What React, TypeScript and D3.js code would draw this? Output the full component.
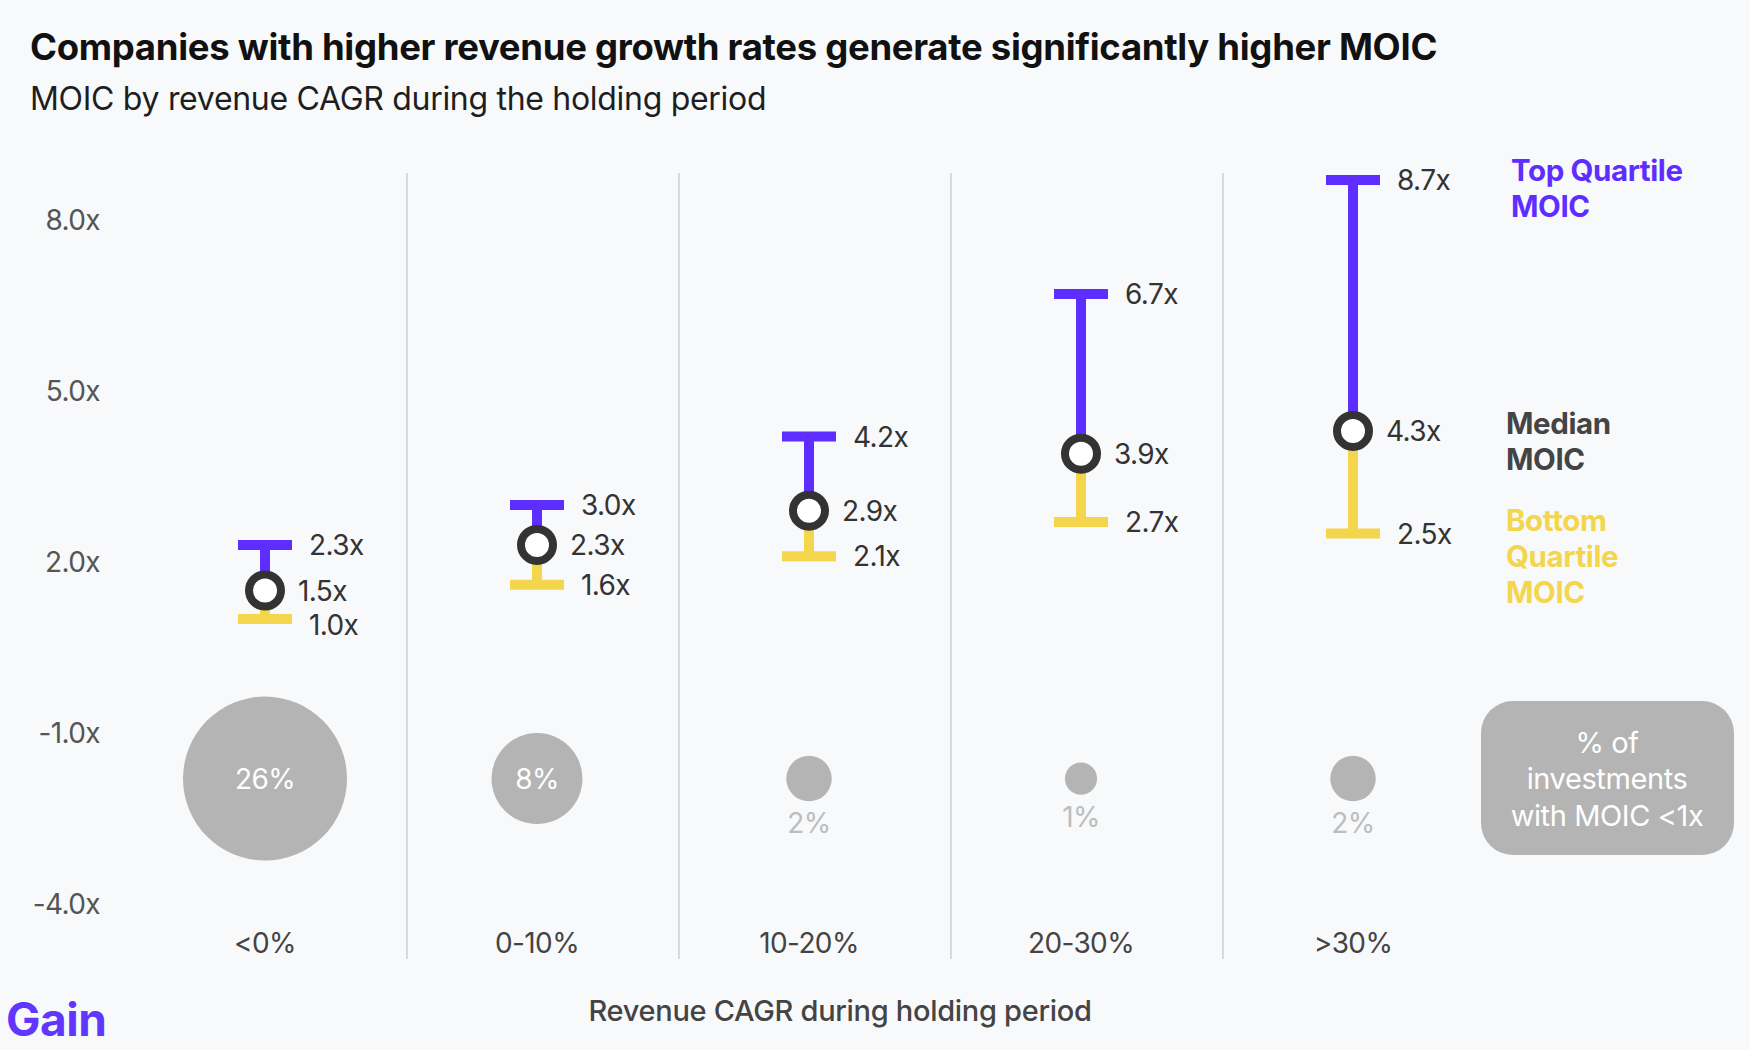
import React, { useRef, useEffect } from "react";
import * as d3 from "d3";

// ---------------------------------------------------------------------------
// DATA
// ---------------------------------------------------------------------------
const categories = ["<0%", "0-10%", "10-20%", "20-30%", ">30%"];
const topQuartile = [2.3, 3.0, 4.2, 6.7, 8.7];
const medianMoic = [1.5, 2.3, 2.9, 3.9, 4.3];
const bottomQuartile = [1.0, 1.6, 2.1, 2.7, 2.5];
const pctBelowOne = [26, 8, 2, 1, 2];
const yTicks = [8, 5, 2, -1, -4];

const PURPLE = "#5d2eff";
const YELLOW = "#f3d64b";
const DARK = "#333333";
const BUBBLE = "#b4b4b4";
const FONT = "Inter, 'Noto Sans', sans-serif";

export default function App() {
  const svgRef = useRef<SVGSVGElement | null>(null);

  useEffect(() => {
    document.body.style.margin = "0";

    const W = 1750;
    const H = 1050;

    const svg = d3.select(svgRef.current);
    svg.selectAll("*").remove();
    svg.attr("width", W).attr("height", H).style("font-family", FONT);

    svg.append("rect").attr("width", W).attr("height", H).attr("fill", "#f8f9fb");

    // scales
    const y = d3.scaleLinear().domain([-4, 8]).range([904, 220]);
    const x = d3.scalePoint<string>().domain(categories).range([265, 1353]);
    const r = d3.scaleSqrt().domain([0, 26]).range([0, 82]);
    const bubbleRow = y(-1.8);

    // titles
    svg
      .append("text")
      .attr("x", 30)
      .attr("y", 60)
      .attr("fill", "#111")
      .style("font-size", "36.5px")
      .style("font-weight", 700)
      .style("letter-spacing", "-0.3px")
      .text("Companies with higher revenue growth rates generate significantly higher MOIC");

    svg
      .append("text")
      .attr("x", 30)
      .attr("y", 110)
      .attr("fill", "#1e1e1e")
      .style("font-size", "32px")
      .style("letter-spacing", "-0.3px")
      .text("MOIC by revenue CAGR during the holding period");

    // y tick labels
    svg
      .append("g")
      .selectAll("text")
      .data(yTicks)
      .join("text")
      .attr("x", 100)
      .attr("y", (d) => y(d))
      .attr("text-anchor", "end")
      .attr("dominant-baseline", "central")
      .attr("fill", "#555")
      .style("font-size", "28px")
      .style("letter-spacing", "-0.6px")
      .text((d) => `${d.toFixed(1)}x`);

    // column separators
    const seps = categories.slice(1).map((c, i) => (x(categories[i])! + x(c)!) / 2 + 6);
    svg
      .append("g")
      .selectAll("line")
      .data(seps)
      .join("line")
      .attr("x1", (d) => d)
      .attr("x2", (d) => d)
      .attr("y1", 173)
      .attr("y2", 959)
      .attr("stroke", "#d8d9dc")
      .attr("stroke-width", 2);

    const rows = categories.map((c, i) => ({
      cat: c,
      top: topQuartile[i],
      med: medianMoic[i],
      bot: bottomQuartile[i],
      pct: pctBelowOne[i],
    }));
    type Row = (typeof rows)[number];

    const g = svg.append("g").selectAll("g").data(rows).join("g");
    const cap = 27;

    // whiskers
    g.append("line")
      .attr("x1", (d) => x(d.cat)!)
      .attr("x2", (d) => x(d.cat)!)
      .attr("y1", (d) => y(d.top))
      .attr("y2", (d) => y(d.med))
      .attr("stroke", PURPLE)
      .attr("stroke-width", 10);
    g.append("line")
      .attr("x1", (d) => x(d.cat)!)
      .attr("x2", (d) => x(d.cat)!)
      .attr("y1", (d) => y(d.med))
      .attr("y2", (d) => y(d.bot))
      .attr("stroke", YELLOW)
      .attr("stroke-width", 10);
    g.append("line")
      .attr("x1", (d) => x(d.cat)! - cap)
      .attr("x2", (d) => x(d.cat)! + cap)
      .attr("y1", (d) => y(d.top))
      .attr("y2", (d) => y(d.top))
      .attr("stroke", PURPLE)
      .attr("stroke-width", 10);
    g.append("line")
      .attr("x1", (d) => x(d.cat)! - cap)
      .attr("x2", (d) => x(d.cat)! + cap)
      .attr("y1", (d) => y(d.bot))
      .attr("y2", (d) => y(d.bot))
      .attr("stroke", YELLOW)
      .attr("stroke-width", 10);
    g.append("circle")
      .attr("cx", (d) => x(d.cat)!)
      .attr("cy", (d) => y(d.med))
      .attr("r", 16)
      .attr("fill", "#fff")
      .attr("stroke", DARK)
      .attr("stroke-width", 8);

    // value labels (keep a minimum gap so close labels don't collide)
    const minGap = 34;
    const topY = (d: Row) => Math.min(y(d.top), y(d.med) - minGap);
    const botY = (d: Row) => Math.max(y(d.bot), y(d.med) + minGap);
    const label = (dx: number, pos: (d: Row) => number, val: (d: Row) => number) =>
      g
        .append("text")
        .attr("x", (d) => x(d.cat)! + dx)
        .attr("y", pos)
        .attr("dominant-baseline", "central")
        .attr("fill", DARK)
        .style("font-size", "28px")
        .style("letter-spacing", "-0.6px")
        .text((d) => `${val(d).toFixed(1)}x`);
    label(44, topY, (d) => d.top);
    label(33, (d) => y(d.med), (d) => d.med);
    label(44, botY, (d) => d.bot);

    // bubbles: % of investments with MOIC < 1x
    g.append("circle")
      .attr("cx", (d) => x(d.cat)!)
      .attr("cy", bubbleRow)
      .attr("r", (d) => r(d.pct))
      .attr("fill", BUBBLE);
    g.append("text")
      .attr("x", (d) => x(d.cat)!)
      .attr("y", (d) => (r(d.pct) > 40 ? bubbleRow : bubbleRow + r(d.pct) + 22))
      .attr("text-anchor", "middle")
      .attr("dominant-baseline", "central")
      .attr("fill", (d) => (r(d.pct) > 40 ? "#fff" : "#bdbdbd"))
      .style("font-size", "28px")
      .style("letter-spacing", "-0.6px")
      .text((d) => `${d.pct}%`);

    // category labels
    g.append("text")
      .attr("x", (d) => x(d.cat)!)
      .attr("y", 943)
      .attr("text-anchor", "middle")
      .attr("dominant-baseline", "central")
      .attr("fill", "#444")
      .style("font-size", "28px")
      .style("letter-spacing", "-0.6px")
      .text((d) => d.cat);

    // axis title
    svg
      .append("text")
      .attr("x", 840)
      .attr("y", 1010)
      .attr("text-anchor", "middle")
      .attr("dominant-baseline", "central")
      .attr("fill", "#444")
      .style("font-size", "29px")
      .style("font-weight", 500)
      .style("letter-spacing", "-0.3px")
      .text("Revenue CAGR during holding period");

    // legend on the right, aligned with the last column
    const last = rows[rows.length - 1];
    const lx = x(last.cat)! + 153;
    const legend = [
      { lines: ["Top Quartile", "MOIC"], color: PURPLE, y0: y(last.top) - 10, dx: 5 },
      { lines: ["Median", "MOIC"], color: "#444", y0: y(last.med) - 8, dx: 0 },
      { lines: ["Bottom", "Quartile", "MOIC"], color: YELLOW, y0: y(last.bot) - 14, dx: 0 },
    ];
    legend.forEach((l) => {
      l.lines.forEach((t, j) => {
        svg
          .append("text")
          .attr("x", lx + l.dx)
          .attr("y", l.y0 + j * 36)
          .attr("dominant-baseline", "central")
          .attr("fill", l.color)
          .style("font-size", "29.5px")
          .style("font-weight", 700)
          .style("letter-spacing", "-0.4px")
          .text(t);
      });
    });

    // legend box for the bubbles
    svg
      .append("rect")
      .attr("x", 1481)
      .attr("y", 701)
      .attr("width", 253)
      .attr("height", 154)
      .attr("rx", 32)
      .attr("fill", BUBBLE);
    ["% of", "investments", "with MOIC <1x"].forEach((t, j) => {
      svg
        .append("text")
        .attr("x", 1607)
        .attr("y", 742 + j * 36.5)
        .attr("text-anchor", "middle")
        .attr("dominant-baseline", "central")
        .attr("fill", "#fff")
        .style("font-size", "29px")
        .style("letter-spacing", "-0.4px")
        .text(t);
    });

    // logo
    svg
      .append("text")
      .attr("x", 6)
      .attr("y", 1036)
      .attr("fill", "#6137ff")
      .style("font-size", "46px")
      .style("font-weight", 700)
      .style("letter-spacing", "-0.5px")
      .text("Gain");
  }, []);

  return <svg ref={svgRef} style={{ display: "block" }} />;
}
